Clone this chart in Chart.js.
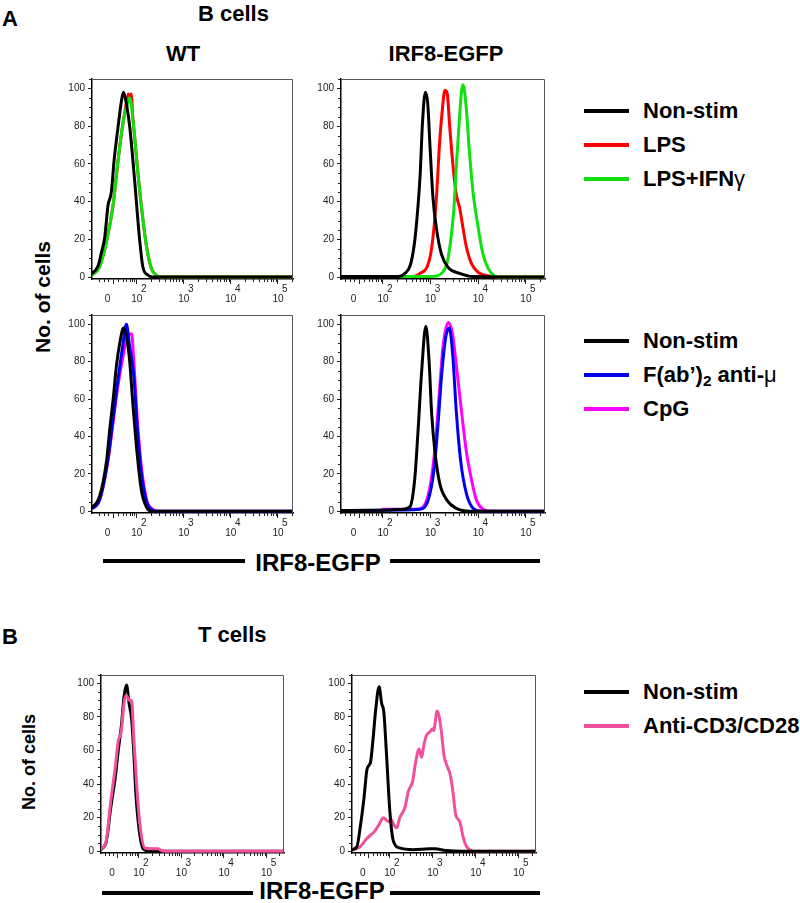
<!DOCTYPE html>
<html>
<head>
<meta charset="utf-8">
<script src="https://cdn.jsdelivr.net/npm/chart.js@4.4.0/dist/chart.umd.min.js"></script>
<style>
  body { margin: 0; background: #fff; }
  #page { position: relative; width: 800px; height: 903px; overflow: hidden;
          font-family: "Liberation Sans", Arial, sans-serif; font-weight: bold; color: #000; }
  .t { position: absolute; white-space: nowrap; line-height: 1; }
  .c { transform: translateX(-50%); }
  .ln { position: absolute; height: 4px; background: #000; }
  canvas { position: absolute; }
  sub { font-size: 70%; vertical-align: -0.25em; line-height: 0; }
  .gr { font-weight: normal; }
</style>
</head>
<body>
<div id="page">
  <div class="t" style="left:2px; top:8px; font-size:22px;">A</div>
  <div class="t" style="left:198px; top:3px; font-size:22px;">B cells</div>
  <div class="t c" style="left:183px; top:43px; font-size:22px;">WT</div>
  <div class="t c" style="left:446px; top:43px; font-size:22px;">IRF8-EGFP</div>
  <div class="t" style="left:42px; top:297px; font-size:21px; transform: translate(-50%, -50%) rotate(-90deg);">No. of cells</div>

  <div class="ln" style="left:584px; top:109px; width:45px; background:#000;"></div>
  <div class="ln" style="left:584px; top:143px; width:45px; background:#ff0000;"></div>
  <div class="ln" style="left:584px; top:177px; width:45px; background:#10e010;"></div>
  <div class="t" style="left:643px; top:100px; font-size:22px;">Non-stim</div>
  <div class="t" style="left:643px; top:134px; font-size:22px;">LPS</div>
  <div class="t" style="left:643px; top:168px; font-size:22px;">LPS+IFN<span class="gr">γ</span></div>

  <div class="ln" style="left:584px; top:339px; width:45px; background:#000;"></div>
  <div class="ln" style="left:584px; top:373px; width:45px; background:#0000ee;"></div>
  <div class="ln" style="left:584px; top:407px; width:45px; background:#ff00ff;"></div>
  <div class="t" style="left:643px; top:330px; font-size:22px;">Non-stim</div>
  <div class="t" style="left:643px; top:364px; font-size:22px;">F(ab’)<sub>2</sub> anti-<span class="gr">μ</span></div>
  <div class="t" style="left:643px; top:398px; font-size:22px;">CpG</div>

  <div class="ln" style="left:103px; top:559px; width:142px;"></div>
  <div class="t c" style="left:318px; top:551px; font-size:24px;">IRF8-EGFP</div>
  <div class="ln" style="left:390px; top:559px; width:150px;"></div>

  <div class="t" style="left:2px; top:626px; font-size:22px;">B</div>
  <div class="t" style="left:198px; top:624px; font-size:22px;">T cells</div>
  <div class="t" style="left:29px; top:762px; font-size:18px; transform: translate(-50%, -50%) rotate(-90deg);">No. of cells</div>

  <div class="ln" style="left:584px; top:690px; width:45px; background:#000;"></div>
  <div class="ln" style="left:584px; top:724px; width:45px; background:#f0509c;"></div>
  <div class="t" style="left:643px; top:681px; font-size:22px;">Non-stim</div>
  <div class="t" style="left:643px; top:715px; font-size:22px;">Anti-CD3/CD28</div>

  <div class="ln" style="left:102px; top:891px; width:151px;"></div>
  <div class="t c" style="left:322px; top:879px; font-size:24px;">IRF8-EGFP</div>
  <div class="ln" style="left:390px; top:891px; width:150px;"></div>

  <canvas id="p1"></canvas>
  <canvas id="p2"></canvas>
  <canvas id="p3"></canvas>
  <canvas id="p4"></canvas>
  <canvas id="p5"></canvas>
  <canvas id="p6"></canvas>
</div>

<script>
// x is in display units of the biexponential axis: 2 = 10^2, 3 = 10^3 ...
const xTickPos = [1.5, 2, 3, 4, 5];
const xTickExp = ['', '2', '3', '4', '5'];
const yTicks = [0, 20, 40, 60, 80, 100];

// B cells, WT, LPS row
const wtNon1X = [1.0, 1.18, 1.25, 1.32, 1.39, 1.46, 1.52, 1.57, 1.64, 1.68, 1.72, 1.78, 1.85, 1.96, 2.05, 2.13, 2.24, 2.35, 5.5];
const wtNon1Y = [1, 6, 13, 21, 38, 45, 62, 73, 87, 94, 98, 92, 80, 50, 23, 5.5, 1, 0, 0];
const wtLps1X = [1.0, 1.21, 1.36, 1.5, 1.6, 1.71, 1.78, 1.82, 1.85, 1.88, 1.92, 2.03, 2.12, 2.21, 2.31, 2.42, 2.5, 5.5];
const wtLps1Y = [0.5, 5.5, 19, 38.5, 61, 82, 92, 97, 95, 97, 84, 54, 33, 16, 4.7, 1, 0, 0];
const wtIfn1X = [1.0, 1.21, 1.36, 1.5, 1.6, 1.71, 1.78, 1.82, 1.85, 1.88, 1.92, 2.03, 2.12, 2.21, 2.31, 2.42, 2.5, 5.5];
const wtIfn1Y = [0.5, 5.4, 19, 38.5, 61, 82, 90, 93, 95, 92, 83.5, 54, 33, 16, 4.7, 1, 0, 0];

// B cells, IRF8-EGFP, LPS row
const irfNon1X = [1.0, 2.0, 2.36, 2.46, 2.57, 2.65, 2.71, 2.78, 2.83, 2.89, 2.94, 2.99, 3.05, 3.13, 3.23, 3.37, 3.61, 3.89, 5.5];
const irfNon1Y = [0.3, 0.3, 0.5, 2, 6, 16, 30, 54, 82, 98, 92, 68, 42, 24.5, 12, 5, 2, 0.3, 0];
const irfLps1X = [1.0, 2.64, 2.78, 2.92, 3.0, 3.07, 3.13, 3.18, 3.24, 3.30, 3.35, 3.40, 3.47, 3.54, 3.61, 3.68, 3.75, 3.86, 4.0, 4.24, 4.4, 5.5];
const irfLps1Y = [0.3, 0.3, 2, 5, 12, 26, 45, 68, 87, 99, 97, 80, 59, 43.6, 36.6, 26, 16, 7, 2.5, 0.5, 0, 0];
const irfIfn1X = [1.0, 3.05, 3.23, 3.34, 3.42, 3.49, 3.54, 3.60, 3.65, 3.68, 3.74, 3.81, 3.89, 4.0, 4.10, 4.21, 4.35, 4.45, 5.5];
const irfIfn1Y = [0.3, 0.3, 2, 7, 19, 36.6, 59, 82, 99, 102, 92, 68, 45, 26, 12, 4.5, 0.5, 0, 0];

// B cells, WT, anti-IgM / CpG row
const wtNon2X = [1.0, 1.21, 1.36, 1.43, 1.50, 1.57, 1.64, 1.72, 1.84, 1.92, 2.01, 2.10, 2.21, 2.31, 5.5];
const wtNon2Y = [1, 7.8, 27, 44.5, 60, 78, 90, 98, 83, 57, 30.5, 11, 2, 0, 0];
const wtAnti2X = [1.0, 1.21, 1.39, 1.50, 1.60, 1.70, 1.78, 1.85, 1.94, 2.01, 2.10, 2.21, 2.33, 2.42, 5.5];
const wtAnti2Y = [0.8, 6, 28, 50, 70, 88, 100, 88, 72, 45, 20, 5, 0.5, 0, 0];
const wtCpg2X = [1.0, 1.21, 1.39, 1.50, 1.60, 1.71, 1.81, 1.89, 1.94, 2.01, 2.10, 2.21, 2.35, 2.45, 5.5];
const wtCpg2Y = [0.8, 6, 27, 48, 67, 83, 94, 95, 79.5, 50, 23.5, 6, 0.8, 0, 0];

// B cells, IRF8-EGFP, anti-IgM / CpG row
const irfNon2X = [1.0, 2.0, 2.42, 2.57, 2.67, 2.74, 2.81, 2.90, 2.97, 3.02, 3.09, 3.19, 3.34, 3.54, 3.82, 5.5];
const irfNon2Y = [0.3, 0.5, 1, 2.5, 18, 44.5, 74, 99, 79.5, 53, 32, 15, 6, 1.5, 0, 0];
const irfAnti2X = [1.0, 2.0, 2.78, 2.95, 3.07, 3.16, 3.23, 3.32, 3.39, 3.46, 3.54, 3.63, 3.75, 3.89, 4.05, 5.5];
const irfAnti2Y = [0.3, 0.5, 1, 6, 22, 48, 72.5, 93.5, 98, 85, 53, 27, 9.5, 1.5, 0, 0];
const irfCpg2X = [1.0, 1.94, 2.0, 2.6, 2.71, 2.92, 3.02, 3.10, 3.18, 3.26, 3.37, 3.46, 3.54, 3.65, 3.75, 3.86, 3.96, 4.10, 4.25, 5.5];
const irfCpg2Y = [0.3, 0.3, 1, 1, 1, 6, 18, 36, 62, 88, 101, 95, 78, 53, 32, 16.5, 6, 1, 0, 0];

// T cells, WT
const wtNon3X = [1.0, 1.22, 1.34, 1.45, 1.51, 1.59, 1.65, 1.71, 1.77, 1.83, 1.88, 1.93, 2.01, 2.10, 2.3, 5.5];
const wtNon3Y = [0.3, 4.5, 26, 45, 59, 75, 92, 99, 88, 78.5, 59, 34, 12, 1.5, 0, 0];
const wtCd3X = [1.0, 1.22, 1.34, 1.45, 1.51, 1.59, 1.65, 1.71, 1.77, 1.83, 1.88, 1.95, 2.02, 2.14, 2.34, 2.45, 2.53, 2.65, 5.5];
const wtCd3Y = [0.3, 5, 30, 51, 65, 72, 88, 93, 90, 90, 68, 39, 17, 2, 1.5, 1.5, 0.5, 0, 0];

// T cells, IRF8-EGFP
const irfNon3X = [1.0, 1.23, 1.32, 1.40, 1.47, 1.55, 1.61, 1.67, 1.75, 1.81, 1.86, 1.92, 2.0, 2.08, 2.23, 2.54, 2.93, 3.05, 3.3, 3.7, 5.5];
const irfNon3Y = [0.3, 2.5, 16, 32, 49, 53, 67, 84, 98, 88, 83, 59, 24, 6.4, 2, 1, 1.5, 1.5, 0.5, 0, 0];
const irfCd3X = [1.0, 1.30, 1.46, 1.65, 1.75, 1.85, 1.92, 2.0, 2.03, 2.09, 2.16, 2.23, 2.35, 2.43, 2.53, 2.60, 2.68, 2.74, 2.79, 2.85, 2.93, 2.99, 3.02, 3.10, 3.15, 3.20, 3.26, 3.33, 3.41, 3.47, 3.53, 3.63, 3.70, 3.78, 3.90, 4.0, 5.5];
const irfCd3Y = [0.3, 2.5, 7.5, 12, 16, 20, 18.5, 17.5, 19, 16, 14, 20, 26, 35.7, 41.6, 53, 61, 56, 63, 69, 71, 73, 72, 83.5, 80, 71, 57, 51, 45, 35, 22, 17.5, 9, 3, 0.5, 0, 0];

const black = '#000000', red = '#ff0000', green = '#10e010', blue = '#0000ee', magenta = '#ff00ff', pink = '#f0509c';

// minor tick positions
const yMinor = [];
for (let v = 5; v <= 105; v += 5) if (v % 20 !== 0) yMinor.push(v);
const xMinor = [1.2, 1.3, 1.4, 1.6, 1.7, 1.78, 1.85, 1.9, 1.95];
for (let k = 2; k <= 5; k++) for (let m = 2; m <= 9; m++) xMinor.push(k + Math.log10(m));

const panelFrame = {
  id: 'panelFrame',
  afterDraw(chart) {
    const { ctx, chartArea: a, scales } = chart;
    ctx.save();
    ctx.strokeStyle = '#555';
    ctx.lineWidth = 1;
    ctx.beginPath();
    ctx.moveTo(a.left, a.top + 0.5);
    ctx.lineTo(a.right - 0.5, a.top + 0.5);
    ctx.lineTo(a.right - 0.5, a.bottom);
    ctx.stroke();
    ctx.strokeStyle = '#222';
    ctx.beginPath();
    yMinor.forEach(v => {
      const y = Math.round(scales.y.getPixelForValue(v)) + 0.5;
      ctx.moveTo(a.left - 3, y); ctx.lineTo(a.left, y);
    });
    xMinor.forEach(v => {
      if (v < scales.x.min || v > scales.x.max) return;
      const x = Math.round(scales.x.getPixelForValue(v)) + 0.5;
      ctx.moveTo(x, a.bottom); ctx.lineTo(x, a.bottom + 3);
    });
    ctx.stroke();
    ctx.restore();
  }
};

function xLabel(v) {
  const i = xTickPos.indexOf(v);
  if (i === 0) return ['', '0    '];
  return ['     ' + xTickExp[i], '10'];
}

function makePanel(id, rect, xRange, series) {
  const padL = 46, padT = 4, padR = 6, padB = 34;
  const cv = document.getElementById(id);
  const w = rect.r - rect.l + padL + padR;
  const h = rect.b - rect.t + padT + padB;
  cv.width = w; cv.height = h;
  cv.style.left = (rect.l - padL) + 'px';
  cv.style.top = (rect.t - padT) + 'px';
  cv.style.width = w + 'px';
  cv.style.height = h + 'px';
  const tickFont = { size: 10, family: 'Liberation Sans', lineHeight: 1 };
  new Chart(cv, {
    type: 'line',
    data: {
      datasets: series.map(s => ({
        data: s.x.map((x, i) => ({ x: x, y: s.y[i] })),
        borderColor: s.color,
        borderWidth: 3,
        pointRadius: 0,
        cubicInterpolationMode: 'monotone',
        fill: false,
      })),
    },
    options: {
      responsive: false,
      animation: false,
      events: [],
      layout: { padding: { top: padT, right: padR, left: 0, bottom: 0 } },
      plugins: { legend: { display: false }, tooltip: { enabled: false } },
      scales: {
        x: {
          type: 'linear', min: xRange[0], max: xRange[1],
          afterBuildTicks: sc => { sc.ticks = xTickPos.map(v => ({ value: v })); },
          afterFit: sc => { sc.height = padB; },
          ticks: { autoSkip: false, maxRotation: 0, padding: 0, color: '#222', font: tickFont, callback: xLabel },
          grid: { drawOnChartArea: false, tickLength: 5, tickColor: '#222' },
          border: { color: '#000', width: 1.5 },
        },
        y: {
          min: -1, max: 105,
          afterBuildTicks: sc => { sc.ticks = yTicks.map(v => ({ value: v })); },
          afterFit: sc => { sc.width = padL; },
          ticks: { padding: 3, color: '#222', font: tickFont },
          grid: { drawOnChartArea: false, tickLength: 4, tickColor: '#222' },
          border: { color: '#000', width: 1.5 },
        },
      },
    },
    plugins: [panelFrame],
  });
}

makePanel('p1', { l: 92, r: 293, t: 75, b: 279 }, [1.05, 5.32], [
  { x: wtNon1X, y: wtNon1Y, color: black },
  { x: wtIfn1X, y: wtIfn1Y, color: green },
  { x: wtLps1X, y: wtLps1Y, color: red },
]);
makePanel('p2', { l: 341, r: 545, t: 75, b: 279 }, [1.12, 5.4], [
  { x: irfNon1X, y: irfNon1Y, color: black },
  { x: irfIfn1X, y: irfIfn1Y, color: green },
  { x: irfLps1X, y: irfLps1Y, color: red },
]);
makePanel('p3', { l: 92, r: 293, t: 311, b: 513 }, [1.05, 5.32], [
  { x: wtNon2X, y: wtNon2Y, color: black },
  { x: wtAnti2X, y: wtAnti2Y, color: blue },
  { x: wtCpg2X, y: wtCpg2Y, color: magenta },
]);
makePanel('p4', { l: 341, r: 545, t: 311, b: 513 }, [1.12, 5.4], [
  { x: irfNon2X, y: irfNon2Y, color: black },
  { x: irfAnti2X, y: irfAnti2Y, color: blue },
  { x: irfCpg2X, y: irfCpg2Y, color: magenta },
]);
makePanel('p5', { l: 101, r: 284, t: 671, b: 853 }, [1.11, 5.41], [
  { x: wtCd3X, y: wtCd3Y, color: pink },
  { x: wtNon3X, y: wtNon3Y, color: black },
]);
makePanel('p6', { l: 352, r: 536, t: 671, b: 853 }, [1.12, 5.4], [
  { x: irfNon3X, y: irfNon3Y, color: black },
  { x: irfCd3X, y: irfCd3Y, color: pink },
]);
</script>
</body>
</html>
